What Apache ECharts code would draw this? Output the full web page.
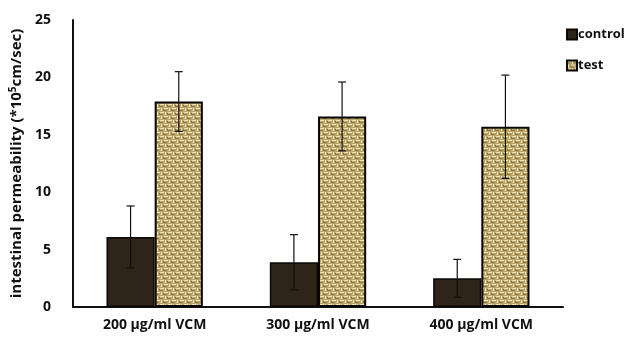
<!DOCTYPE html>
<html>
<head>
<meta charset="utf-8">
<script src="https://cdn.jsdelivr.net/npm/echarts@6/dist/echarts.min.js"></script>
<style>html,body{margin:0;padding:0;background:#fff}#c{width:625px;height:337px}</style>
</head>
<body>
<div id="c"></div>
<script>
const categories = ['200 µg/ml VCM', '300 µg/ml VCM', '400 µg/ml VCM'];
const controlValues = [6.1, 3.9, 2.5];
const controlErrors = [2.7, 2.4, 1.65];
const testValues = [17.9, 16.6, 15.7];
const testErrors = [2.6, 3.0, 4.5];
const yTicks = [0, 5, 10, 15, 20, 25];

function makeWeave() {
  const s = 8;
  const cv = document.createElement('canvas');
  cv.width = s; cv.height = s;
  const g = cv.getContext('2d');
  g.fillStyle = '#bca66c';
  g.fillRect(0, 0, s, s);
  g.fillStyle = '#efe4b8';
  g.fillRect(0, 0, 4, 1);
  g.fillRect(4, 4, 4, 1);
  g.fillRect(5, 0, 1, 3);
  g.fillRect(1, 4, 1, 3);
  g.fillStyle = '#8c7746';
  g.fillRect(0, 2, 3, 1);
  g.fillRect(4, 6, 3, 1);
  g.fillRect(7, 1, 1, 2);
  g.fillRect(3, 5, 1, 2);
  return cv;
}
const weave = makeWeave();

const chart = echarts.init(document.getElementById('c'), null, {renderer: 'canvas'});
const catGap = 0.41;

function errSeries(name, values, errors, side) {
  return {
    type: 'custom',
    name: name + '_err',
    z: 10,
    silent: true,
    renderItem: function (params, api) {
      const i = api.value(0);
      const v = api.value(1);
      const e = api.value(2);
      const band = api.size([1, 0])[0];
      const bw = band * (1 - catGap) / 2;
      const cx = api.coord([i, v])[0] + side * bw / 2;
      const top = api.coord([i, v + e])[1];
      const bot = api.coord([i, v - e])[1];
      const cap = 4;
      const st = {stroke: '#111', lineWidth: 1.2};
      return {
        type: 'group',
        children: [
          {type: 'line', shape: {x1: cx, y1: top, x2: cx, y2: bot}, style: st},
          {type: 'line', shape: {x1: cx - cap, y1: top, x2: cx + cap, y2: top}, style: st},
          {type: 'line', shape: {x1: cx - cap, y1: bot, x2: cx + cap, y2: bot}, style: st}
        ]
      };
    },
    data: values.map((v, i) => [i, v, errors[i]])
  };
}

chart.setOption({
  animation: false,
  backgroundColor: '#fff',
  textStyle: {fontFamily: 'Open Sans'},
  legend: {
    orient: 'vertical',
    left: 561,
    top: 23,
    itemWidth: 10,
    itemHeight: 10,
    itemGap: 18,
    icon: 'rect',
    textStyle: {fontSize: 13, fontWeight: 'bold', color: '#111', padding: [0, 0, 0, -4]},
    data: ['control', 'test']
  },
  grid: {left: 73, right: 62, top: 20, bottom: 30, containLabel: false},
  xAxis: {
    type: 'category',
    data: categories,
    axisLine: {lineStyle: {color: '#111', width: 2}},
    axisTick: {show: false},
    axisLabel: {fontSize: 14, fontWeight: 'bold', color: '#111', margin: 11}
  },
  yAxis: {
    type: 'value',
    min: yTicks[0],
    max: yTicks[yTicks.length - 1],
    interval: 5,
    splitLine: {show: false},
    axisLine: {show: true, lineStyle: {color: '#111', width: 2}},
    axisTick: {show: false},
    axisLabel: {fontSize: 14, fontWeight: 'bold', color: '#111', margin: 22},
    name: '{a|intestinal permeability (*10}{s|5}{a|cm/sec)}',
    nameLocation: 'middle',
    nameGap: 48,
    nameRotate: 90,
    nameTextStyle: {
      rich: {
        a: {fontSize: 15, fontWeight: 'bold', color: '#111', fontFamily: 'Open Sans'},
        s: {fontSize: 10, fontWeight: 'bold', color: '#111', fontFamily: 'Open Sans', verticalAlign: 'top', padding: [0, 0, 7, 0]}
      }
    }
  },
  series: [
    {
      name: 'control',
      type: 'bar',
      data: controlValues,
      barGap: '0%',
      barCategoryGap: '41%',
      itemStyle: {color: '#2e2419', borderColor: '#0a0806', borderWidth: 1.5}
    },
    {
      name: 'test',
      type: 'bar',
      data: testValues,
      barGap: '0%',
      barCategoryGap: '41%',
      itemStyle: {color: {image: weave, repeat: 'repeat'}, borderColor: '#0a0806', borderWidth: 2}
    },
    errSeries('control', controlValues, controlErrors, -1),
    errSeries('test', testValues, testErrors, 1)
  ]
});
</script>
</body>
</html>
